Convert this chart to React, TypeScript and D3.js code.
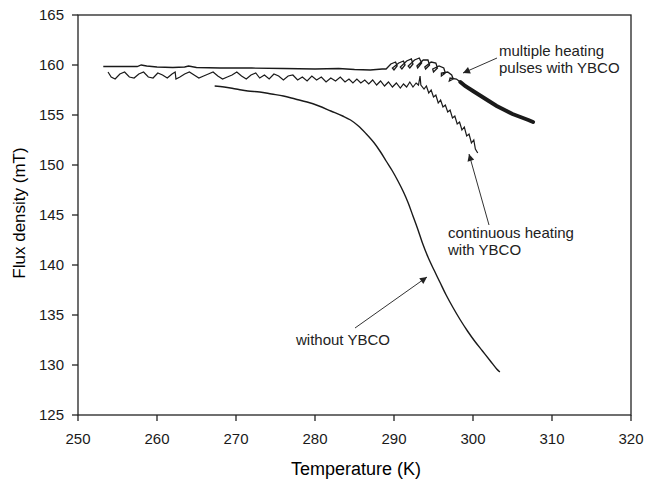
import React from "react";
import * as d3 from "d3";

const xTicks = [250, 260, 270, 280, 290, 300, 310, 320];
const yTicks = [125, 130, 135, 140, 145, 150, 155, 160, 165];

const withoutYBCO: [number, number][] = [
  [267.3, 157.9], [268.5, 157.8], [270, 157.6], [271.5, 157.4], [273, 157.3], [274.5, 157.1],
  [276, 156.9], [277.5, 156.6], [279, 156.3], [280.5, 155.9], [282, 155.4], [283.5, 154.9],
  [284.5, 154.5], [285.5, 153.9], [286.5, 153.1], [287.5, 152.2], [288.3, 151.3], [289, 150.4],
  [289.8, 149.4], [290.5, 148.4], [291.2, 147.3], [291.8, 146.2], [292.4, 144.9], [293, 143.6],
  [293.6, 142.2], [294.3, 140.8], [295, 139.6], [295.8, 138.3], [296.6, 137.0], [297.5, 135.7],
  [298.4, 134.5], [299.3, 133.4], [300.2, 132.4], [301.2, 131.4], [302.2, 130.4], [303.0, 129.6],
  [303.4, 129.3],
];

const continuousHeating: [number, number][] = [
  [253.8, 159.3], [254.2, 158.8], [254.7, 158.6], [255.3, 159.1], [255.9, 159.3], [256.5, 158.8],
  [257.1, 158.7], [257.7, 159.1], [258.3, 159.3], [258.9, 158.8], [259.5, 158.7], [260.1, 159.2],
  [260.7, 159.0], [261.3, 158.7], [261.9, 159.1], [262.3, 159.3], [262.4, 158.6], [262.9, 158.8],
  [263.5, 159.1], [264.1, 159.3], [264.7, 159.0], [265.3, 158.7], [265.9, 158.9], [266.5, 159.1],
  [267.1, 159.3], [267.7, 158.9], [268.3, 158.6], [268.9, 158.8], [269.5, 159.0], [270.1, 159.3],
  [270.7, 158.9], [271.3, 158.6], [271.9, 159.0], [272.5, 159.2], [273.0, 158.7], [273.6, 159.0],
  [274.2, 158.6], [274.8, 159.1], [275.4, 158.9], [276.0, 158.5], [276.6, 158.9], [277.2, 159.0],
  [277.8, 158.5], [278.4, 158.8], [279.0, 158.4], [279.6, 158.9], [280.2, 158.5], [280.8, 158.8],
  [281.4, 158.3], [282.0, 158.7], [282.6, 158.4], [283.2, 158.8], [283.8, 158.3], [284.3, 158.6],
  [284.8, 158.2], [285.3, 158.6], [285.8, 158.2], [286.3, 158.5], [286.8, 158.1], [287.3, 158.5],
  [287.8, 158.0], [288.3, 158.4], [288.8, 157.9], [289.3, 158.3], [289.8, 157.8], [290.3, 158.2],
  [290.8, 157.7], [291.2, 158.1], [291.6, 157.8], [292.0, 158.3], [292.4, 157.8], [292.8, 158.2],
  [293.1, 158.0], [293.3, 158.9], [293.4, 158.0], [293.8, 157.6], [294.1, 157.9], [294.4, 157.2],
  [294.7, 157.5], [295.0, 156.8], [295.3, 157.0], [295.6, 156.2], [295.9, 156.5], [296.2, 155.8],
  [296.5, 156.0], [296.8, 155.3], [297.1, 155.5], [297.4, 154.7], [297.7, 154.9], [298.0, 154.1],
  [298.3, 154.3], [298.6, 153.5], [298.9, 153.8], [299.2, 152.9], [299.5, 153.1], [299.8, 152.2],
  [300.1, 152.5], [300.3, 151.6], [300.6, 151.2],
];

const heatingPulses: [number, number][] = [
  [253.2, 159.85], [256, 159.85], [257.5, 159.85], [258, 160.0], [258.7, 159.9], [260, 159.8],
  [262, 159.75], [263.5, 159.8], [264, 159.9], [265, 159.75], [268, 159.7], [272, 159.7],
  [276, 159.65], [280, 159.6], [283, 159.65], [285, 159.55], [287, 159.5], [288.5, 159.6],
  [289.0, 159.6], [289.6, 160.1], [290.2, 160.3], [290.4, 159.9], [290.0, 159.5], [289.8, 159.7],
  [290.6, 160.2], [291.2, 160.4], [291.4, 160.0], [291.0, 159.6], [290.8, 159.8], [291.6, 160.4],
  [292.2, 160.6], [292.4, 160.1], [292.0, 159.7], [291.8, 159.9], [292.6, 160.5], [293.2, 160.7],
  [293.5, 160.2], [293.0, 159.7], [292.9, 159.9], [293.7, 160.5], [294.3, 160.5], [294.5, 160.0],
  [294.0, 159.6], [293.9, 159.8], [294.7, 160.3], [295.3, 160.2], [295.5, 159.7], [295.0, 159.3],
  [294.9, 159.6], [295.7, 159.9], [296.3, 159.7], [296.5, 159.2], [296.0, 158.9], [296.0, 159.2],
  [296.8, 159.3], [297.3, 159.0], [297.5, 158.6], [297.0, 158.4], [297.1, 158.7], [297.9, 158.6],
  [298.4, 158.3],
];

const pulsesTail: [number, number][] = [
  [298.4, 158.3], [299, 157.9], [300, 157.4], [301, 156.9], [302, 156.4], [303, 155.9],
  [304, 155.5], [305, 155.1], [306, 154.8], [307, 154.5], [307.6, 154.3],
];

const W = 647;
const H = 481;
const x = d3.scaleLinear().domain([250, 320]).range([78, 631]);
const y = d3.scaleLinear().domain([125, 165]).range([415, 15]);

const line = d3
  .line<[number, number]>()
  .x((d) => x(d[0]))
  .y((d) => y(d[1]));

const smoothLine = d3
  .line<[number, number]>()
  .x((d) => x(d[0]))
  .y((d) => y(d[1]))
  .curve(d3.curveCatmullRom);

const FONT = "Arial, 'Liberation Sans', Helvetica, sans-serif";
const INK = "#1a1a1a";

export default function App() {
  return (
    <svg
      width={W}
      height={H}
      style={{ position: "absolute", left: 0, top: 0, background: "#fff" }}
      fontFamily={FONT}
    >
      <defs>
        <marker
          id="arrow"
          viewBox="0 0 10 10"
          refX="10"
          refY="5"
          markerWidth="9"
          markerHeight="7"
          markerUnits="userSpaceOnUse"
          orient="auto"
        >
          <path d="M0,0 L10,5 L0,10 z" fill="#222" />
        </marker>
      </defs>
      <rect x={0} y={0} width={W} height={H} fill="#fff" />

      <rect
        x={x(250)}
        y={y(165)}
        width={x(320) - x(250)}
        height={y(125) - y(165)}
        fill="none"
        stroke="#222"
        strokeWidth={1.3}
      />

      {xTicks.map((t) => (
        <g key={"x" + t}>
          <line x1={x(t)} x2={x(t)} y1={y(125)} y2={y(125) + 6} stroke="#222" strokeWidth={1.3} />
          <text x={x(t)} y={y(125) + 29} textAnchor="middle" fontSize={15} fill={INK}>
            {t}
          </text>
        </g>
      ))}
      {yTicks.map((t) => (
        <g key={"y" + t}>
          <line x1={x(250) - 6} x2={x(250)} y1={y(t)} y2={y(t)} stroke="#222" strokeWidth={1.3} />
          <text x={x(250) - 14} y={y(t) + 5} textAnchor="end" fontSize={15} fill={INK}>
            {t}
          </text>
        </g>
      ))}

      <text x={356} y={475} textAnchor="middle" fontSize={18} fill="#000">
        Temperature (K)
      </text>
      <text
        transform={`translate(25,${213}) rotate(-90)`}
        textAnchor="middle"
        fontSize={17}
        fill="#000"
      >
        Flux density (mT)
      </text>

      <path d={smoothLine(withoutYBCO) || ""} fill="none" stroke={INK} strokeWidth={1.4} />
      <path d={line(continuousHeating) || ""} fill="none" stroke={INK} strokeWidth={1.2} />
      <path d={line(heatingPulses) || ""} fill="none" stroke={INK} strokeWidth={1.3} />
      <path d={line(pulsesTail) || ""} fill="none" stroke={INK} strokeWidth={4} strokeLinecap="round" />

      <line x1={497} y1={58} x2={463} y2={73} stroke="#333" strokeWidth={1} markerEnd="url(#arrow)" />
      <text x={499} y={56} fontSize={15} fill="#222">multiple heating</text>
      <text x={499} y={73} fontSize={15} fill="#222">pulses with YBCO</text>

      <line x1={489} y1={225} x2={469} y2={154} stroke="#333" strokeWidth={1} markerEnd="url(#arrow)" />
      <text x={448} y={238} fontSize={15} fill="#222">continuous heating</text>
      <text x={448} y={255} fontSize={15} fill="#222">with YBCO</text>

      <line x1={355} y1={328} x2={427} y2={277} stroke="#333" strokeWidth={1} markerEnd="url(#arrow)" />
      <text x={296} y={345} fontSize={15} fill="#222">without YBCO</text>
    </svg>
  );
}
